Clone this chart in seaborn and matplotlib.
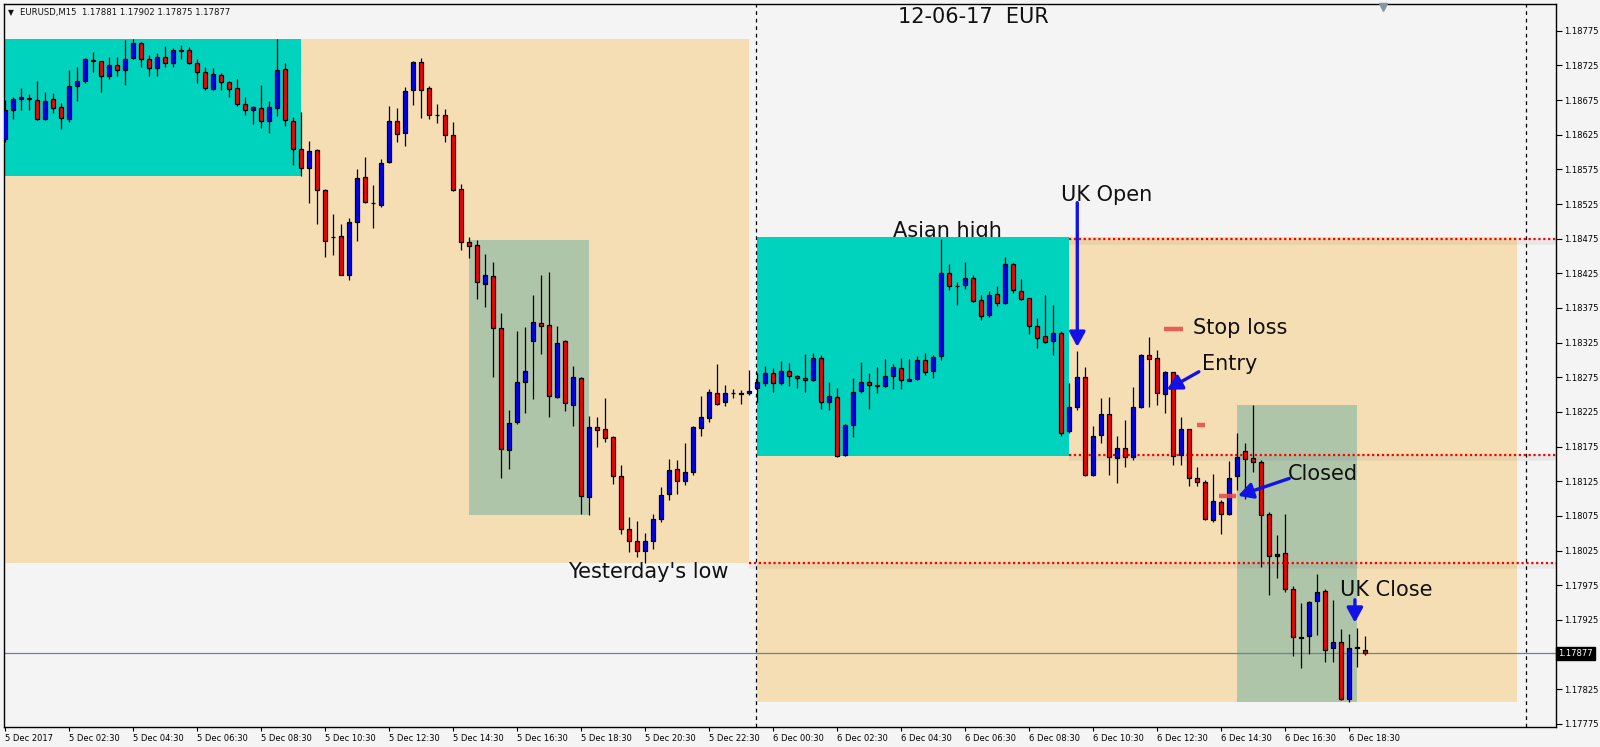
"""EURUSD M15 session chart, 5-6 Dec 2017."""
import matplotlib
matplotlib.use("Agg")
import matplotlib.pyplot as plt
import matplotlib.transforms as mtransforms
from matplotlib.patches import Rectangle
import numpy as np
import seaborn as sns

# ---- candles (15 min bars, bar 0 = 5 Dec 00:30) ----
opens = [
    1.18619, 1.18661, 1.18676, 1.18678, 1.18675, 1.18648, 1.18676, 1.18665, 1.18648, 1.18695,
    1.18702, 1.18733, 1.18731, 1.18710, 1.18725, 1.18718, 1.18736, 1.18757, 1.18734, 1.18721,
    1.18737, 1.18728, 1.18747, 1.18747, 1.18728, 1.18715, 1.18691, 1.18711, 1.18701, 1.18692,
    1.18669, 1.18661, 1.18663, 1.18645, 1.18663, 1.18720, 1.18645, 1.18604, 1.18577, 1.18603,
    1.18545, 1.18478, 1.18479, 1.18422, 1.18499, 1.18564, 1.18527, 1.18523, 1.18585, 1.18645,
    1.18627, 1.18689, 1.18730, 1.18692, 1.18654, 1.18653, 1.18624, 1.18547, 1.18470, 1.18466,
    1.18409, 1.18421, 1.18346, 1.18170, 1.18210, 1.18268, 1.18327, 1.18353, 1.18350, 1.18246,
    1.18327, 1.18235, 1.18274, 1.18102, 1.18203, 1.18200, 1.18189, 1.18132, 1.18056, 1.18039,
    1.18024, 1.18039, 1.18070, 1.18106, 1.18143, 1.18125, 1.18138, 1.18202, 1.18216, 1.18252,
    1.18239, 1.18252, 1.18252, 1.18252, 1.18259, 1.18267, 1.18281, 1.18267, 1.18284, 1.18277,
    1.18274, 1.18271, 1.18303, 1.18239, 1.18246, 1.18163, 1.18206, 1.18255, 1.18268, 1.18264,
    1.18262, 1.18277, 1.18288, 1.18270, 1.18272, 1.18300, 1.18284, 1.18306, 1.18425, 1.18407,
    1.18408, 1.18418, 1.18386, 1.18365, 1.18395, 1.18382, 1.18438, 1.18399, 1.18389, 1.18349,
    1.18334, 1.18327, 1.18339, 1.18197, 1.18232, 1.18275, 1.18134, 1.18192, 1.18222, 1.18158,
    1.18173, 1.18160, 1.18232, 1.18307, 1.18303, 1.18251, 1.18282, 1.18163, 1.18200, 1.18130,
    1.18124, 1.18069, 1.18095, 1.18078, 1.18132, 1.18168, 1.18158, 1.18153, 1.18078, 1.18017,
    1.18021, 1.17969, 1.17900, 1.17902, 1.17952, 1.17967, 1.17884, 1.17893, 1.17811, 1.17886,
    1.17881,
]
highs = [
    1.18675, 1.18680, 1.18692, 1.18684, 1.18702, 1.18687, 1.18685, 1.18671, 1.18719, 1.18722,
    1.18736, 1.18745, 1.18732, 1.18737, 1.18737, 1.18762, 1.18763, 1.18759, 1.18740, 1.18743,
    1.18753, 1.18750, 1.18755, 1.18751, 1.18734, 1.18723, 1.18721, 1.18714, 1.18702, 1.18705,
    1.18679, 1.18667, 1.18696, 1.18674, 1.18763, 1.18729, 1.18650, 1.18658, 1.18616, 1.18604,
    1.18547, 1.18511, 1.18496, 1.18505, 1.18575, 1.18593, 1.18553, 1.18590, 1.18666, 1.18663,
    1.18694, 1.18731, 1.18736, 1.18695, 1.18670, 1.18662, 1.18643, 1.18554, 1.18477, 1.18473,
    1.18453, 1.18442, 1.18368, 1.18228, 1.18342, 1.18347, 1.18394, 1.18422, 1.18427, 1.18349,
    1.18329, 1.18291, 1.18275, 1.18219, 1.18218, 1.18245, 1.18190, 1.18148, 1.18073, 1.18067,
    1.18050, 1.18078, 1.18116, 1.18157, 1.18155, 1.18180, 1.18204, 1.18248, 1.18258, 1.18294,
    1.18264, 1.18258, 1.18256, 1.18285, 1.18281, 1.18291, 1.18288, 1.18298, 1.18295, 1.18278,
    1.18308, 1.18310, 1.18307, 1.18268, 1.18259, 1.18207, 1.18274, 1.18297, 1.18281, 1.18290,
    1.18301, 1.18294, 1.18303, 1.18301, 1.18306, 1.18310, 1.18307, 1.18475, 1.18438, 1.18412,
    1.18441, 1.18422, 1.18394, 1.18399, 1.18407, 1.18448, 1.18440, 1.18417, 1.18390, 1.18360,
    1.18394, 1.18379, 1.18342, 1.18267, 1.18313, 1.18290, 1.18205, 1.18245, 1.18246, 1.18190,
    1.18213, 1.18261, 1.18308, 1.18333, 1.18314, 1.18284, 1.18283, 1.18218, 1.18201, 1.18145,
    1.18127, 1.18135, 1.18098, 1.18154, 1.18194, 1.18180, 1.18235, 1.18155, 1.18080, 1.18047,
    1.18078, 1.17974, 1.17949, 1.17952, 1.17991, 1.17969, 1.17954, 1.17912, 1.17904, 1.17913,
    1.17902,
]
lows = [
    1.18615, 1.18647, 1.18660, 1.18660, 1.18646, 1.18646, 1.18656, 1.18633, 1.18644, 1.18674,
    1.18700, 1.18715, 1.18686, 1.18706, 1.18710, 1.18697, 1.18734, 1.18723, 1.18710, 1.18710,
    1.18723, 1.18722, 1.18734, 1.18727, 1.18700, 1.18689, 1.18690, 1.18690, 1.18680, 1.18666,
    1.18653, 1.18640, 1.18634, 1.18627, 1.18652, 1.18637, 1.18582, 1.18565, 1.18526, 1.18496,
    1.18448, 1.18451, 1.18422, 1.18415, 1.18472, 1.18527, 1.18490, 1.18521, 1.18584, 1.18615,
    1.18608, 1.18668, 1.18649, 1.18648, 1.18642, 1.18614, 1.18544, 1.18459, 1.18447, 1.18388,
    1.18376, 1.18275, 1.18130, 1.18143, 1.18207, 1.18224, 1.18244, 1.18309, 1.18218, 1.18245,
    1.18226, 1.18205, 1.18078, 1.18076, 1.18174, 1.18181, 1.18121, 1.18049, 1.18023, 1.18016,
    1.18007, 1.18027, 1.18066, 1.18098, 1.18106, 1.18119, 1.18134, 1.18190, 1.18210, 1.18235,
    1.18233, 1.18245, 1.18236, 1.18250, 1.18239, 1.18262, 1.18254, 1.18264, 1.18262, 1.18260,
    1.18254, 1.18270, 1.18229, 1.18228, 1.18160, 1.18161, 1.18189, 1.18252, 1.18229, 1.18252,
    1.18261, 1.18258, 1.18258, 1.18269, 1.18271, 1.18278, 1.18274, 1.18300, 1.18401, 1.18379,
    1.18402, 1.18384, 1.18358, 1.18362, 1.18378, 1.18381, 1.18396, 1.18386, 1.18337, 1.18317,
    1.18325, 1.18307, 1.18190, 1.18194, 1.18228, 1.18132, 1.18132, 1.18180, 1.18134, 1.18122,
    1.18145, 1.18155, 1.18231, 1.18232, 1.18235, 1.18223, 1.18148, 1.18148, 1.18118, 1.18118,
    1.18069, 1.18066, 1.18049, 1.18077, 1.18112, 1.18099, 1.18138, 1.18001, 1.17961, 1.17985,
    1.17965, 1.17873, 1.17855, 1.17876, 1.17903, 1.17864, 1.17864, 1.17810, 1.17806, 1.17857,
    1.17875,
]
closes = [
    1.18661, 1.18677, 1.18679, 1.18677, 1.18647, 1.18674, 1.18663, 1.18649, 1.18695, 1.18702,
    1.18734, 1.18731, 1.18710, 1.18725, 1.18718, 1.18734, 1.18757, 1.18734, 1.18721, 1.18737,
    1.18728, 1.18747, 1.18746, 1.18728, 1.18715, 1.18692, 1.18712, 1.18701, 1.18691, 1.18669,
    1.18661, 1.18665, 1.18645, 1.18665, 1.18718, 1.18646, 1.18604, 1.18577, 1.18601, 1.18545,
    1.18472, 1.18477, 1.18423, 1.18499, 1.18562, 1.18528, 1.18526, 1.18584, 1.18645, 1.18626,
    1.18688, 1.18730, 1.18689, 1.18653, 1.18653, 1.18624, 1.18545, 1.18470, 1.18464, 1.18412,
    1.18422, 1.18346, 1.18171, 1.18209, 1.18268, 1.18284, 1.18355, 1.18349, 1.18248, 1.18324,
    1.18238, 1.18275, 1.18104, 1.18203, 1.18199, 1.18187, 1.18132, 1.18056, 1.18039, 1.18024,
    1.18039, 1.18070, 1.18105, 1.18141, 1.18125, 1.18138, 1.18203, 1.18218, 1.18254, 1.18236,
    1.18252, 1.18252, 1.18251, 1.18255, 1.18268, 1.18281, 1.18267, 1.18284, 1.18277, 1.18274,
    1.18271, 1.18303, 1.18239, 1.18248, 1.18162, 1.18206, 1.18254, 1.18268, 1.18264, 1.18263,
    1.18277, 1.18290, 1.18271, 1.18272, 1.18300, 1.18282, 1.18304, 1.18425, 1.18407, 1.18406,
    1.18418, 1.18385, 1.18363, 1.18394, 1.18382, 1.18438, 1.18401, 1.18388, 1.18349, 1.18332,
    1.18326, 1.18339, 1.18194, 1.18232, 1.18275, 1.18134, 1.18190, 1.18222, 1.18160, 1.18173,
    1.18160, 1.18232, 1.18307, 1.18301, 1.18252, 1.18282, 1.18161, 1.18200, 1.18130, 1.18124,
    1.18070, 1.18096, 1.18078, 1.18130, 1.18160, 1.18157, 1.18153, 1.18076, 1.18017, 1.18020,
    1.17969, 1.17900, 1.17899, 1.17951, 1.17965, 1.17881, 1.17893, 1.17811, 1.17884, 1.17885,
    1.17877,
]

tick_bars = list(range(0, 169, 8))
tick_labels = [
    "5 Dec 2017", "5 Dec 02:30", "5 Dec 04:30", "5 Dec 06:30", "5 Dec 08:30", "5 Dec 10:30",
    "5 Dec 12:30", "5 Dec 14:30", "5 Dec 16:30", "5 Dec 18:30", "5 Dec 20:30", "5 Dec 22:30",
    "6 Dec 00:30", "6 Dec 02:30", "6 Dec 04:30", "6 Dec 06:30", "6 Dec 08:30", "6 Dec 10:30",
    "6 Dec 12:30", "6 Dec 14:30", "6 Dec 16:30", "6 Dec 18:30",
]
# price scale labels (1.17875 is hidden behind the last-price tag)
price_ticks = [
    1.17775, 1.17825, 1.17925, 1.17975, 1.18025, 1.18075, 1.18125, 1.18175,
    1.18225, 1.18275, 1.18325, 1.18375, 1.18425, 1.18475, 1.18525, 1.18575,
    1.18625, 1.18675, 1.18725, 1.18775,
]

# session boxes: kind, first bar, last bar, low, high
box_kind = ["day", "asia", "ny", "day", "asia", "ny"]
box_start = [-1, -1, 58, 94, 94, 154]
box_end = [93, 37, 73, 189, 133, 169]
box_low = [1.18007, 1.18566, 1.18077, 1.17807, 1.18162, 1.17807]
box_high = [1.18763, 1.18763, 1.18473, 1.18477, 1.18477, 1.18235]

level_price = [1.18475, 1.18163, 1.18007]
level_from = [133, 133, 93]

last_price = 1.17877
header = "EURUSD,M15  1.17881 1.17902 1.17875 1.17877"

# trade marks: price, bar from, bar to
mark_price = [1.18344, 1.18206, 1.18104]
mark_from = [144.8, 149.0, 151.7]
mark_to = [147.2, 150.0, 153.8]

# notes: text, bar, price (baseline)
note_text = ["12-06-17  EUR", "UK Open", "Stop loss", "Entry", "Closed",
             "UK Close", "Yesterday's low"]
note_bar = [111.6, 132.0, 148.5, 149.6, 160.3, 166.8, 70.3]
note_price = [1.18786, 1.18530, 1.18337, 1.18286, 1.18127, 1.17959, 1.17986]
# these two sit underneath the Asian box in the original
under_text = ["Asian high", "Asian low"]
under_bar = [110.96, 110.8]
under_price = [1.18478, 1.18139]

# arrows: tail bar, tail price, tip bar, tip price
arrow_x0 = [134.0, 149.2, 160.5, 168.7]
arrow_y0 = [1.18527, 1.18283, 1.18129, 1.17954]
arrow_x1 = [134.0, 145.2, 154.1, 168.7]
arrow_y1 = [1.18319, 1.18257, 1.18104, 1.17921]

BG = "#F4F4F4"
BOX_COLORS = {"day": "#F5DEB3", "asia": "#00D3BD", "ny": "#AFC5A9"}
BULL = "#0000FF"
BEAR = "#FF0000"
ARROW = "#1212E6"
MARK = "#E8504A"

sns.set_theme(style="white")
plt.rcParams["font.family"] = ["DejaVu Sans"]

W, H = 1600, 747
fig = plt.figure(figsize=(W / 100, H / 100), dpi=100, facecolor=BG)
ax = fig.add_axes([4.4 / W, 1 - 727.3 / H, (1556 - 4.4) / W, (727.3 - 4.4) / H])
ax.set_facecolor(BG)
ax.set_xlim(-0.11, 193.84)
ax.set_ylim(1.17770, 1.18813)

for k, x0, x1, lo, hi in zip(box_kind, box_start, box_end, box_low, box_high):
    z = 1.0 if k == "day" else 1.1
    ax.add_patch(Rectangle((x0, lo), x1 - x0, hi - lo, facecolor=BOX_COLORS[k],
                           edgecolor="none", zorder=z))

for t, x, y in zip(under_text, under_bar, under_price):
    ax.text(x, y, t, fontsize=15, color="#111111", ha="left", va="baseline", zorder=0.8)

# key levels
for p, x0 in zip(level_price, level_from):
    ax.hlines(p, x0, 194, colors="#000000", lw=4, alpha=0.05, zorder=1.9,
              transform=ax.transData + mtransforms.ScaledTranslation(0, -3 / 100, fig.dpi_scale_trans))
    ax.hlines(p, x0, 194, colors="#FF0000", lw=1.6, linestyles=(0, (1, 1.2)), zorder=2)

ax.axvline(93.8, color="black", lw=0.9, ls=(0, (3, 3)), zorder=2)
ax.axvline(190.1, color="black", lw=0.9, ls=(0, (3, 3)), zorder=2)
ax.axhline(last_price, color="#70809A", lw=0.9, zorder=2.5)

# candles
x = np.arange(len(opens))
o = np.array(opens)
c = np.array(closes)
cols = [BULL if cc >= oo else BEAR for oo, cc in zip(o, c)]
ax.vlines(x, lows, highs, colors="black", lw=0.9, zorder=2.9)
ax.bar(x, np.abs(c - o), bottom=np.minimum(o, c), width=0.5, color=cols,
       edgecolor="black", linewidth=0.9, zorder=3)

# trade marks
for p, x0, x1 in zip(mark_price, mark_from, mark_to):
    ax.hlines(p, x0, x1, colors=MARK, lw=3.2, alpha=0.9, zorder=4)

for t, xx, yy in zip(note_text, note_bar, note_price):
    ax.text(xx, yy, t, fontsize=15, color="#111111", ha="left", va="baseline", zorder=5)

for xa, ya, xb, yb in zip(arrow_x0, arrow_y0, arrow_x1, arrow_y1):
    ax.annotate("", xy=(xb, yb), xytext=(xa, ya), zorder=6,
                arrowprops=dict(arrowstyle="-|>,head_length=0.55,head_width=0.3",
                                color=ARROW, lw=2.4, shrinkA=0, shrinkB=0,
                                mutation_scale=16))

# header
ax.text(0.0043, 0.9885, "\u25BC", transform=ax.transAxes, fontsize=5.5,
        ha="center", va="center", color="#111111")
ax.text(0.0101, 0.9885, header, transform=ax.transAxes, fontsize=6.1,
        ha="left", va="center", color="#111111")
ax.plot([0.8885], [0.997], marker="v", ms=6, color="#8796A6",
        transform=ax.transAxes, clip_on=False, zorder=7)

# axes
for s in ax.spines.values():
    s.set_color("black")
    s.set_linewidth(1.0)
ax.yaxis.tick_right()
ax.set_yticks(price_ticks)
ax.set_yticklabels([f"{v:.5f}" for v in price_ticks])
ax.set_xticks(tick_bars)
ax.set_xticklabels(tick_labels, ha="left")
ax.tick_params(axis="y", which="both", right=True, left=False, direction="out",
               length=4, width=0.8, labelsize=6, pad=2, colors="black")
ax.tick_params(axis="x", which="both", bottom=True, direction="out",
               length=3, width=0.8, labelsize=6, pad=1.5, colors="black")
ax.grid(False)

blend = mtransforms.blended_transform_factory(ax.transAxes, ax.transData)
ax.text(1.0016, last_price, "1.17877", transform=blend, fontsize=6, color="white",
        ha="left", va="center", zorder=8,
        bbox=dict(boxstyle="square,pad=0.25", fc="black", ec="black"))

fig.savefig("out.png", dpi=100, facecolor=BG)
plt.close(fig)
